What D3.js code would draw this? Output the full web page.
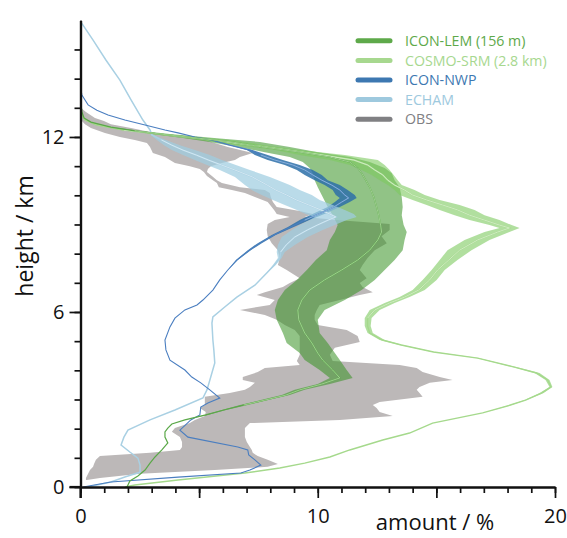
<!DOCTYPE html>
<html><head><meta charset="utf-8">
<script src="https://cdn.jsdelivr.net/npm/d3@7"></script>
<style>
body{margin:0;background:#fff}
text{font-family:'Open Sans',sans-serif}
</style>
</head><body>
<svg id="c" width="567" height="538"></svg>
<script>
// ---------- DATA (heights in km, amounts in %) ----------
const obsH  = [12.99,12.86,12.65,12.55,12.44,12.31,12.14,12.00,11.90,11.79,11.66,11.45,11.31,11.21,11.11,11.00,10.90,10.80,10.66,10.52,10.42,10.28,10.18,10.08,9.94,9.77,9.60,9.46,9.36,9.26,9.15,9.02,8.81,8.60,8.36,8.12,7.85,7.61,7.44,7.16,6.99,6.86,6.68,6.58,6.41,6.24,6.07,5.90,5.73,5.55,5.38,5.18,4.97,4.77,4.53,4.32,4.18,4.08,3.94,3.77,3.67,3.57,3.43,3.33,3.22,3.09,2.91,2.81,2.71,2.57,2.43,2.30,2.19,2.02,1.89,1.71,1.54,1.37,1.27,1.17,1.06,0.93,0.79,0.69,0.58,0.45,0.31,0.24];
const obsLo = [0.02,0.02,0.02,0.06,0.19,0.44,1.03,1.66,2.29,2.80,2.93,3.05,3.56,3.77,3.98,4.61,5.03,5.20,5.33,5.58,5.75,5.83,6.38,6.93,7.35,7.89,8.06,8.19,8.27,8.82,8.19,7.89,7.85,7.89,8.06,8.32,8.40,8.32,8.69,9.24,8.82,8.53,7.77,7.43,8.19,7.98,6.72,7.77,8.27,8.61,9.03,9.24,9.24,9.24,9.24,9.12,9.24,7.77,7.47,6.84,6.84,7.35,7.14,6.93,6.29,5.24,5.24,5.24,5.03,5.28,5.24,4.82,4.61,3.98,3.85,4.19,4.28,4.28,4.19,2.93,0.82,0.65,0.57,0.53,0.40,0.32,0.23,0.23];
const obsHi = [0.02,0.23,0.61,0.99,1.28,2.13,3.14,4.11,5.24,5.66,6.21,7.26,6.72,6.51,5.96,5.49,5.37,5.33,5.54,5.75,5.96,6.72,7.77,7.98,8.02,8.11,8.27,9.24,9.79,9.45,10.80,13.03,13.03,12.69,12.91,12.40,12.10,11.89,11.77,12.06,11.77,11.89,12.32,11.77,10.93,10.08,9.96,9.87,9.87,10.00,11.22,11.68,11.77,10.72,10.51,10.63,13.45,14.17,14.42,15.14,15.68,14.72,14.29,14.17,14.29,14.42,12.61,12.32,12.48,12.61,13.16,10.93,7.14,6.93,6.93,6.93,7.01,7.14,7.22,7.26,7.47,7.89,8.32,7.89,5.66,2.51,0.82,0.27];

const lemH    = [13.13,12.86,12.65,12.51,12.34,12.21,12.10,11.96,11.83,11.66,11.48,11.31,11.14,10.94,10.76,10.52,10.28,9.94,9.60,9.32,8.98,8.74,8.47,8.12,7.78,7.44,7.10,6.75,6.41,6.07,5.73,5.28,4.94,4.59,4.35,4.01,3.74,3.53,3.33,3.15,2.98,2.81,2.64,2.47,2.30,2.16,2.02,1.89,1.71,1.51,1.27,1.03,0.82,0.58,0.38,0.21,0.07,0];
const lemLo   = [0.02,0.06,0.15,0.44,1.28,2.08,3.01,4.40,5.45,6.63,7.77,8.82,9.37,9.66,9.79,9.87,10.00,10.21,10.42,10.63,10.84,10.72,10.51,10.38,9.92,9.54,9.12,8.61,8.32,8.19,8.27,8.53,8.69,9.24,9.45,10.08,10.51,10.00,9.03,8.48,7.60,6.72,5.96,5.24,4.40,3.85,3.68,3.56,3.56,3.68,3.43,3.14,2.93,2.72,2.42,2.08,2.00,1.96];
const lemHi   = [0.02,0.06,0.15,0.44,1.28,2.51,3.77,5.75,7.56,8.82,10.00,11.35,12.19,12.82,13.12,13.24,13.45,13.54,13.58,13.54,13.62,13.75,13.66,13.58,13.24,12.82,12.40,11.85,11.14,10.29,10.00,10.08,10.42,10.72,10.93,11.22,11.47,10.51,9.45,8.82,7.89,7.05,6.13,5.37,4.40,3.85,3.68,3.56,3.56,3.68,3.43,3.14,2.93,2.72,2.42,2.08,2.00,1.96];
const lemMean = [0.02,0.06,0.15,0.44,1.28,2.29,3.35,4.95,6.38,7.64,9.24,10.51,11.35,11.68,11.85,12.02,12.19,12.36,12.48,12.57,12.65,12.69,12.53,12.19,11.68,11.01,10.29,9.66,9.33,9.16,9.20,9.45,9.75,10.00,10.21,10.63,10.93,10.17,9.24,8.65,7.77,6.88,6.04,5.28,4.40,3.85,3.68,3.56,3.56,3.68,3.43,3.14,2.93,2.72,2.42,2.08,2.00,1.96];

const cosH    = [13.27,12.99,12.75,12.58,12.41,12.24,12.07,11.90,11.72,11.55,11.38,11.21,11.04,10.87,10.70,10.52,10.35,10.18,10.01,9.84,9.67,9.50,9.32,9.15,8.98,8.88,8.74,8.47,8.12,7.78,7.44,7.10,6.75,6.51,6.31,6.07,5.79,5.52,5.28,5.04,4.87,4.63,4.42,4.11,3.91,3.67,3.43,3.22,2.98,2.81,2.54,2.19,1.85,1.61,1.27,1.03,0.82,0.65,0.48,0.24,0.07,0];
const cosLo   = [0.02,0.02,0.06,0.15,0.61,1.66,3.35,5.03,6.72,8.19,9.24,10.51,11.35,11.85,12.27,12.61,12.95,13.24,13.45,14.00,14.59,15.14,15.77,16.40,17.24,17.66,17.03,16.19,15.47,15.14,14.80,14.42,14.00,13.45,12.82,12.19,11.98,11.98,12.10,12.61,13.45,14.84,16.69,18.21,19.14,19.60,19.77,19.35,18.72,18.08,16.95,14.84,13.87,12.74,11.35,10.51,9.45,8.40,6.93,4.11,2.29,1.87];
const cosHi   = [0.02,0.02,0.06,0.23,0.82,2.00,3.98,6.29,7.77,9.24,11.14,12.53,12.82,13.03,13.20,13.37,13.54,14.08,14.51,15.14,15.98,16.61,17.03,17.66,18.17,18.51,18.08,17.24,16.48,15.89,15.35,15.01,14.51,13.87,13.24,12.61,12.27,12.23,12.32,12.82,13.58,14.93,16.78,18.36,19.35,19.77,19.89,19.52,18.80,18.17,16.95,14.84,13.87,12.74,11.35,10.51,9.45,8.40,6.93,4.11,2.29,1.87];
const cosMean = [0.02,0.02,0.06,0.19,0.70,1.83,3.64,5.62,7.18,8.74,10.17,11.52,12.10,12.40,12.74,12.95,13.24,13.66,14.00,14.59,15.26,15.89,16.40,17.03,17.66,18.08,17.58,16.74,15.98,15.52,15.05,14.72,14.25,13.66,13.03,12.40,12.10,12.10,12.19,12.72,13.52,14.88,16.74,18.29,19.22,19.69,19.83,19.43,18.76,18.12,16.95,14.84,13.87,12.74,11.35,10.51,9.45,8.40,6.93,4.11,2.29,1.87];

const nwpH    = [13.68,13.44,13.27,13.10,12.92,12.75,12.58,12.41,12.24,12.14,12.00,11.90,11.72,11.55,11.38,11.21,11.04,10.87,10.70,10.52,10.35,10.18,10.01,9.91,9.77,9.60,9.39,9.15,8.91,8.64,8.36,8.12,7.78,7.44,7.10,6.75,6.41,6.24,6.07,5.79,5.49,5.04,4.70,4.35,4.01,3.77,3.57,3.33,3.05,2.88,2.74,2.47,2.30,1.95,1.71,1.37,1.27,1.10,0.93,0.75,0.58,0.48,0.34,0.17,0];
const nwpLo   = [0,0.06,0.19,0.32,0.69,1.16,1.87,2.72,3.56,4.11,4.82,5.49,6.29,7.01,7.35,7.89,8.61,9.12,9.45,9.87,10.29,10.63,10.76,10.93,10.72,10.42,9.87,9.24,8.74,8.06,7.47,7.05,6.55,6.21,5.87,5.58,5.16,4.91,4.40,3.98,3.77,3.56,3.60,3.77,4.40,4.69,5.07,5.45,5.87,5.37,5.07,5.03,4.65,4.19,4.53,6.63,7.05,7.09,7.35,7.60,7.14,6.76,4.11,1.28,0.11];
const nwpHi   = [0,0.06,0.19,0.32,0.69,1.16,1.87,2.72,3.56,4.11,4.82,5.49,6.29,7.26,7.89,8.53,9.24,9.79,10.17,10.42,10.93,11.26,11.56,11.64,11.35,10.93,10.38,9.66,8.99,8.23,7.64,7.18,6.63,6.21,5.87,5.58,5.16,4.91,4.40,3.98,3.77,3.56,3.60,3.77,4.40,4.69,5.07,5.45,5.87,5.37,5.07,5.03,4.65,4.19,4.53,6.63,7.05,7.09,7.35,7.60,7.14,6.76,4.11,1.28,0.11];
const nwpMean = [0,0.06,0.19,0.32,0.69,1.16,1.87,2.72,3.56,4.11,4.82,5.49,6.29,7.14,7.60,8.19,8.95,9.45,9.79,10.17,10.59,10.93,11.14,11.30,11.01,10.68,10.13,9.45,8.86,8.15,7.56,7.12,6.59,6.21,5.87,5.58,5.16,4.91,4.40,3.98,3.77,3.56,3.60,3.77,4.40,4.69,5.07,5.45,5.87,5.37,5.07,5.03,4.65,4.19,4.53,6.63,7.05,7.09,7.35,7.60,7.14,6.76,4.11,1.28,0.11];

const echH    = [15.94,15.32,14.64,13.95,13.27,12.58,12.24,12.07,11.90,11.72,11.55,11.38,11.21,11.04,10.87,10.63,10.35,10.18,10.01,9.84,9.67,9.50,9.36,9.26,9.15,8.98,8.81,8.57,8.30,8.06,7.85,7.61,7.34,6.92,6.51,6.17,5.83,5.62,5.04,4.70,4.25,3.77,3.33,3.05,2.64,2.30,1.95,1.71,1.44,1.20,0.99,0.75,0.51,0.34,0.17,0];
const echLo   = [0.02,0.53,1.07,1.66,2.13,2.63,2.93,2.97,3.22,3.52,3.85,4.32,4.82,5.33,5.87,6.51,6.93,7.22,7.64,8.11,8.61,9.12,9.49,9.87,9.66,9.24,8.91,8.48,8.32,8.27,8.32,8.11,7.85,7.35,6.59,6.08,5.58,5.54,5.58,5.62,5.66,5.49,5.33,5.16,3.98,2.93,2.00,1.83,1.71,2.08,2.42,2.51,2.51,1.87,1.28,0.32];
const echHi   = [0.02,0.53,1.07,1.66,2.13,2.63,2.93,3.05,3.60,4.19,4.82,5.45,5.96,6.55,7.14,7.98,8.82,9.24,9.75,10.08,10.63,11.14,11.52,11.64,11.22,10.72,10.21,9.58,9.03,8.61,8.48,8.23,7.85,7.35,6.59,6.08,5.58,5.54,5.58,5.62,5.66,5.49,5.33,5.16,3.98,2.93,2.00,1.83,1.71,2.08,2.42,2.51,2.51,1.87,1.28,0.32];
const echMean = [0.02,0.53,1.07,1.66,2.13,2.63,2.93,3.01,3.41,3.85,4.32,4.88,5.39,5.94,6.50,7.24,7.87,8.23,8.69,9.10,9.62,10.13,10.50,10.76,10.44,9.98,9.56,9.03,8.67,8.44,8.40,8.17,7.85,7.35,6.59,6.08,5.58,5.54,5.58,5.62,5.66,5.49,5.33,5.16,3.98,2.93,2.00,1.83,1.71,2.08,2.42,2.51,2.51,1.87,1.28,0.32];

const legendNames  = ["ICON-LEM (156 m)","COSMO-SRM (2.8 km)","ICON-NWP","ECHAM","OBS"];
const legendColors = ["#5ea94a","#a7d88f","#3d78b1","#9ec9de","#808083"];
const yMajor = [0,6,12];
const xMajor = [0,5,10,15,20];
const xLabelled = [0,10,20];

// ---------- CHART ----------
const svg = d3.select('#c');
const x = d3.scaleLinear().domain([0,20]).range([80.5,555]);
const y = d3.scaleLinear().domain([0,16]).range([487,20.3]);

function rows(h, lo, hi, m){
  const n = Math.min(h.length, lo.length, hi.length, m ? m.length : Infinity);
  return d3.range(n).map(i => ({h:h[i], lo:lo[i], hi:hi[i], m: m ? m[i] : (lo[i]+hi[i])/2}));
}
const area = d3.area().y(d=>y(d.h)).x0(d=>x(d.lo)).x1(d=>x(d.hi));
const line = d3.line().y(d=>y(d.h)).x(d=>x(d.m));
const innerLine = d3.line().y(d=>y(d.h)).x(d=>x(d.m)).defined(d=>d.hi-d.lo>0.25);

const obs = rows(obsH, obsLo, obsHi);
const lem = rows(lemH, lemLo, lemHi, lemMean);
const cos = rows(cosH, cosLo, cosHi, cosMean);
const nwp = rows(nwpH, nwpLo, nwpHi, nwpMean);
const ech = rows(echH, echLo, echHi, echMean);

const g = svg.append('g');
g.append('path').datum(obs).attr('d', area).attr('fill', '#bcb8b8');
g.append('path').datum(lem).attr('d', area).attr('fill', 'rgb(55,145,35)').attr('fill-opacity', 0.55);
g.append('path').datum(cos).attr('d', area).attr('fill', 'rgb(125,202,95)').attr('fill-opacity', 0.6);
g.append('path').datum(nwp).attr('d', area).attr('fill', 'rgb(45,112,168)').attr('fill-opacity', 0.85);
g.append('path').datum(ech).attr('d', area).attr('fill', 'rgb(160,205,225)').attr('fill-opacity', 0.72);

const series = [
  {d: ech, c: '#a9d0e3', w: 1.5, inner: '#d8eaf3'},
  {d: cos, c: '#a5d98c', w: 1.4, inner: '#d4edc8'},
  {d: nwp, c: '#4a7ec0', w: 1.1, inner: '#8fb6dc'},
  {d: lem, c: '#5aa848', w: 1.2, inner: '#a6d496'}
];
series.forEach(s => {
  g.append('path').datum(s.d).attr('d', line).attr('fill','none').attr('stroke', s.c).attr('stroke-width', s.w);
  g.append('path').datum(s.d).attr('d', innerLine).attr('fill','none').attr('stroke', s.inner).attr('stroke-width', 0.9);
});

// ---------- AXES ----------
const axG = svg.append('g');
axG.append('g').attr('transform','translate(80.5,0)')
  .call(d3.axisLeft(y).tickValues(d3.range(0,16)).tickSize(6).tickSizeOuter(0).tickFormat(''));
axG.append('g').attr('transform','translate(80.5,0)')
  .call(d3.axisLeft(y).tickValues(yMajor).tickSize(11).tickSizeOuter(0).tickPadding(5));
axG.append('g').attr('transform','translate(0,487)')
  .call(d3.axisBottom(x).tickValues(d3.range(0,21)).tickSize(6).tickSizeOuter(0).tickFormat(''));
axG.append('g').attr('transform','translate(0,487)')
  .call(d3.axisBottom(x).tickValues(xMajor).tickSize(11).tickSizeOuter(0).tickPadding(11)
    .tickFormat(d => xLabelled.includes(d) ? d : ''));
axG.selectAll('.domain').attr('stroke','#111').attr('stroke-width',2.2);
axG.selectAll('.tick line').attr('stroke','#111').attr('stroke-width',1.7);
axG.selectAll('.tick text').attr('font-size',20).attr('fill','#111').attr('font-family',"'Open Sans',sans-serif");
axG.append('line').attr('x1',80.5).attr('x2',80.5).attr('y1',487).attr('y2',498).attr('stroke','#111').attr('stroke-width',2.2);
axG.append('line').attr('x1',69.5).attr('x2',80.5).attr('y1',487).attr('y2',487).attr('stroke','#111').attr('stroke-width',2.2);

svg.append('text').attr('transform','translate(33,236) rotate(-90)').attr('text-anchor','middle')
  .attr('font-size',23).attr('fill','#111').text('height / km');
svg.append('text').attr('x',435).attr('y',530).attr('text-anchor','middle')
  .attr('font-size',22).attr('fill','#111').text('amount / %');

// ---------- LEGEND ----------
const leg = svg.append('g');
const legY = d3.scaleBand().domain(legendNames).range([31,129]);
legendNames.forEach((n,i) => {
  const cy = legY(n) + legY.bandwidth()/2;
  leg.append('line').attr('x1',358).attr('x2',390).attr('y1',cy).attr('y2',cy)
    .attr('stroke',legendColors[i]).attr('stroke-width',5).attr('stroke-linecap','round');
  leg.append('text').attr('x',405).attr('y',cy).attr('dy','0.36em').attr('font-size',14.2)
    .attr('fill', legendColors[i]).text(n);
});
</script>
</body></html>
